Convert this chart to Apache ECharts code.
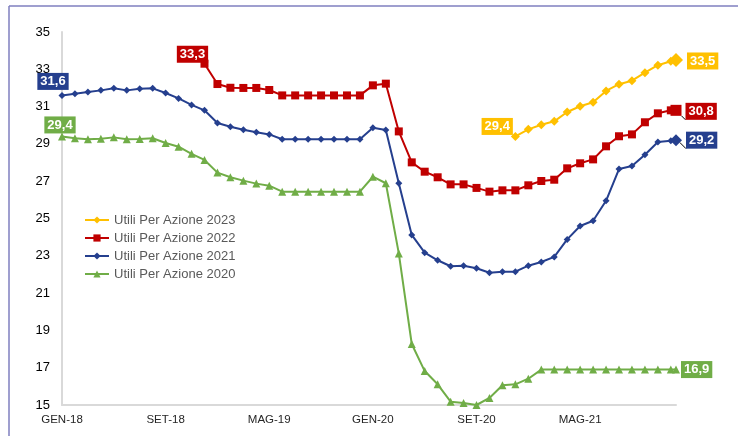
<!DOCTYPE html>
<html>
<head>
<meta charset="utf-8">
<script src="https://cdn.jsdelivr.net/npm/echarts@6/dist/echarts.min.js"></script>
<style>
html,body{margin:0;padding:0;background:#fff;}
#chart{width:738px;height:436px;}
</style>
</head>
<body>
<div id="chart"></div>
<script>
// ---- data ----
// month index from GEN-18 (0) ; last point is the latest observation shortly after month 47
var monthIndex = [0,1,2,3,4,5,6,7,8,9,10,11,12,13,14,15,16,17,18,19,20,21,22,23,24,25,26,27,28,29,30,31,32,33,34,35,36,37,38,39,40,41,42,43,44,45,46,47,47.4];
var tickLabels = ['GEN-18','SET-18','MAG-19','GEN-20','SET-20','MAG-21'];
var seriesNames = ['Utili Per Azione 2023','Utili Per Azione 2022','Utili Per Azione 2021','Utili Per Azione 2020'];

var eps2023 = [null,null,null,null,null,null,null,null,null,null,null,null,null,null,null,null,null,null,null,null,null,null,null,null,null,null,null,null,null,null,null,null,null,null,null,
  29.4,29.78,30.03,30.21,30.71,31.02,31.23,31.84,32.2,32.39,32.82,33.22,33.43,33.5];
var eps2022 = [null,null,null,null,null,null,null,null,null,null,null,
  33.3,32.21,32.01,32.0,32.0,31.89,31.6,31.6,31.6,31.6,31.6,31.6,31.6,
  32.14,32.23,29.67,28.01,27.51,27.21,26.83,26.83,26.64,26.44,26.51,26.51,26.78,27.01,27.08,27.69,27.96,28.17,28.87,29.41,29.51,30.16,30.64,30.8,30.8];
var eps2021 = [31.6,31.69,31.78,31.87,31.98,31.87,31.96,31.98,31.73,31.44,31.09,30.8,30.12,29.92,29.76,29.62,29.51,29.25,29.25,29.25,29.25,29.25,29.25,29.25,
  29.87,29.75,26.89,24.12,23.17,22.76,22.44,22.47,22.33,22.09,22.15,22.15,22.47,22.67,22.94,23.88,24.6,24.88,25.95,27.65,27.81,28.42,29.1,29.17,29.2];
var eps2020 = [29.4,29.3,29.25,29.28,29.35,29.25,29.26,29.3,29.05,28.85,28.47,28.14,27.46,27.21,27.03,26.87,26.76,26.44,26.44,26.44,26.44,26.44,26.44,26.44,
  27.24,26.89,23.13,18.27,16.82,16.11,15.18,15.11,15.0,15.38,16.06,16.11,16.41,16.9,16.9,16.9,16.9,16.9,16.9,16.9,16.9,16.9,16.9,16.9,16.9];

// ---- styles ----
var styles = [
  {color:'#FFC000', symbol:'diamond', size:9, endSize:14,
   start:{position:'left', distance:-2, offset:[0,-10]},
   end:{position:'right', distance:4, offset:[0,1]}},
  {color:'#C00000', symbol:'rect', size:8, endSize:11,
   start:{position:'top', distance:-4, offset:[-12,-1]},
   end:{position:'right', distance:4, offset:[0,1], line:true}},
  {color:'#253F8E', symbol:'diamond', size:7, endSize:12,
   start:{position:'top', distance:2, offset:[-9,0]},
   end:{position:'right', distance:4, offset:[0,0], line:true}},
  {color:'#70AD47', symbol:'triangle', size:8, endSize:8,
   start:{position:'top', distance:-1, offset:[-2,0]},
   end:{position:'right', distance:1, offset:[0,0]}}
];
var valueSets = [eps2023, eps2022, eps2021, eps2020];

function fmt(v){ return v.toFixed(1).replace('.', ','); }

function makeLabel(st, color){
  return {
    show:true, position:st.position, distance:st.distance, offset:st.offset,
    formatter:function(p){ return fmt(p.value[1]); },
    backgroundColor:color, color:'#fff', fontFamily:'Arial, Liberation Sans, sans-serif',
    fontWeight:'bold', fontSize:13, padding:[2,3,1,3], lineHeight:14
  };
}

var series = seriesNames.map(function(name, si){
  var st = styles[si];
  var vals = valueSets[si];
  var items = [];
  monthIndex.forEach(function(x, i){
    if (vals[i] !== null) items.push({value:[x, vals[i]]});
  });
  items[0].label = makeLabel(st.start, st.color);
  var last = items[items.length-1];
  last.symbolSize = st.endSize;
  last.label = makeLabel(st.end, st.color);
  if (st.end.line) {
    last.labelLine = {show:true, lineStyle:{color:'#000', width:1}};
  }
  return {
    name:name, type:'line', data:items, symbol:st.symbol, symbolSize:st.size,
    showAllSymbol:true, itemStyle:{color:st.color}, lineStyle:{color:st.color, width:2},
    label:{show:false}, emphasis:{disabled:true}, animation:false
  };
});

var chart = echarts.init(document.getElementById('chart'), null, {renderer:'canvas'});
chart.setOption({
  animation:false,
  backgroundColor:'#fff',
  grid:{left:62, right:62, top:32, bottom:31, containLabel:false},
  legend:{
    orient:'vertical', left:79, top:208, itemWidth:24, itemHeight:9, itemGap:4,
    data:seriesNames,
    textStyle:{color:'#595959', fontSize:13, fontFamily:'Arial, Liberation Sans, sans-serif', lineHeight:14}
  },
  xAxis:{
    type:'value', min:0, max:47.4, interval:8,
    axisLine:{show:true, lineStyle:{color:'#D9D9D9', width:2}},
    axisTick:{show:false}, splitLine:{show:false},
    axisLabel:{
      showMaxLabel:false, margin:9, color:'#262626', fontSize:11.5,
      fontFamily:'Arial, Liberation Sans, sans-serif',
      formatter:function(v){ return (v % 8 === 0) ? (tickLabels[v/8] || '') : ''; }
    }
  },
  yAxis:{
    type:'value', min:15, max:35, interval:2,
    axisLine:{show:true, lineStyle:{color:'#D9D9D9', width:2}},
    axisTick:{show:false}, splitLine:{show:false},
    axisLabel:{margin:12, color:'#000', fontSize:13, fontFamily:'Arial, Liberation Sans, sans-serif'}
  },
  graphic:[
    {type:'line', shape:{x1:9, y1:6, x2:738, y2:6}, style:{stroke:'#7F7FBF', lineWidth:1.5}, silent:true},
    {type:'line', shape:{x1:9, y1:6, x2:9, y2:436}, style:{stroke:'#7F7FBF', lineWidth:1.5}, silent:true}
  ],
  series:series
});
</script>
</body>
</html>
